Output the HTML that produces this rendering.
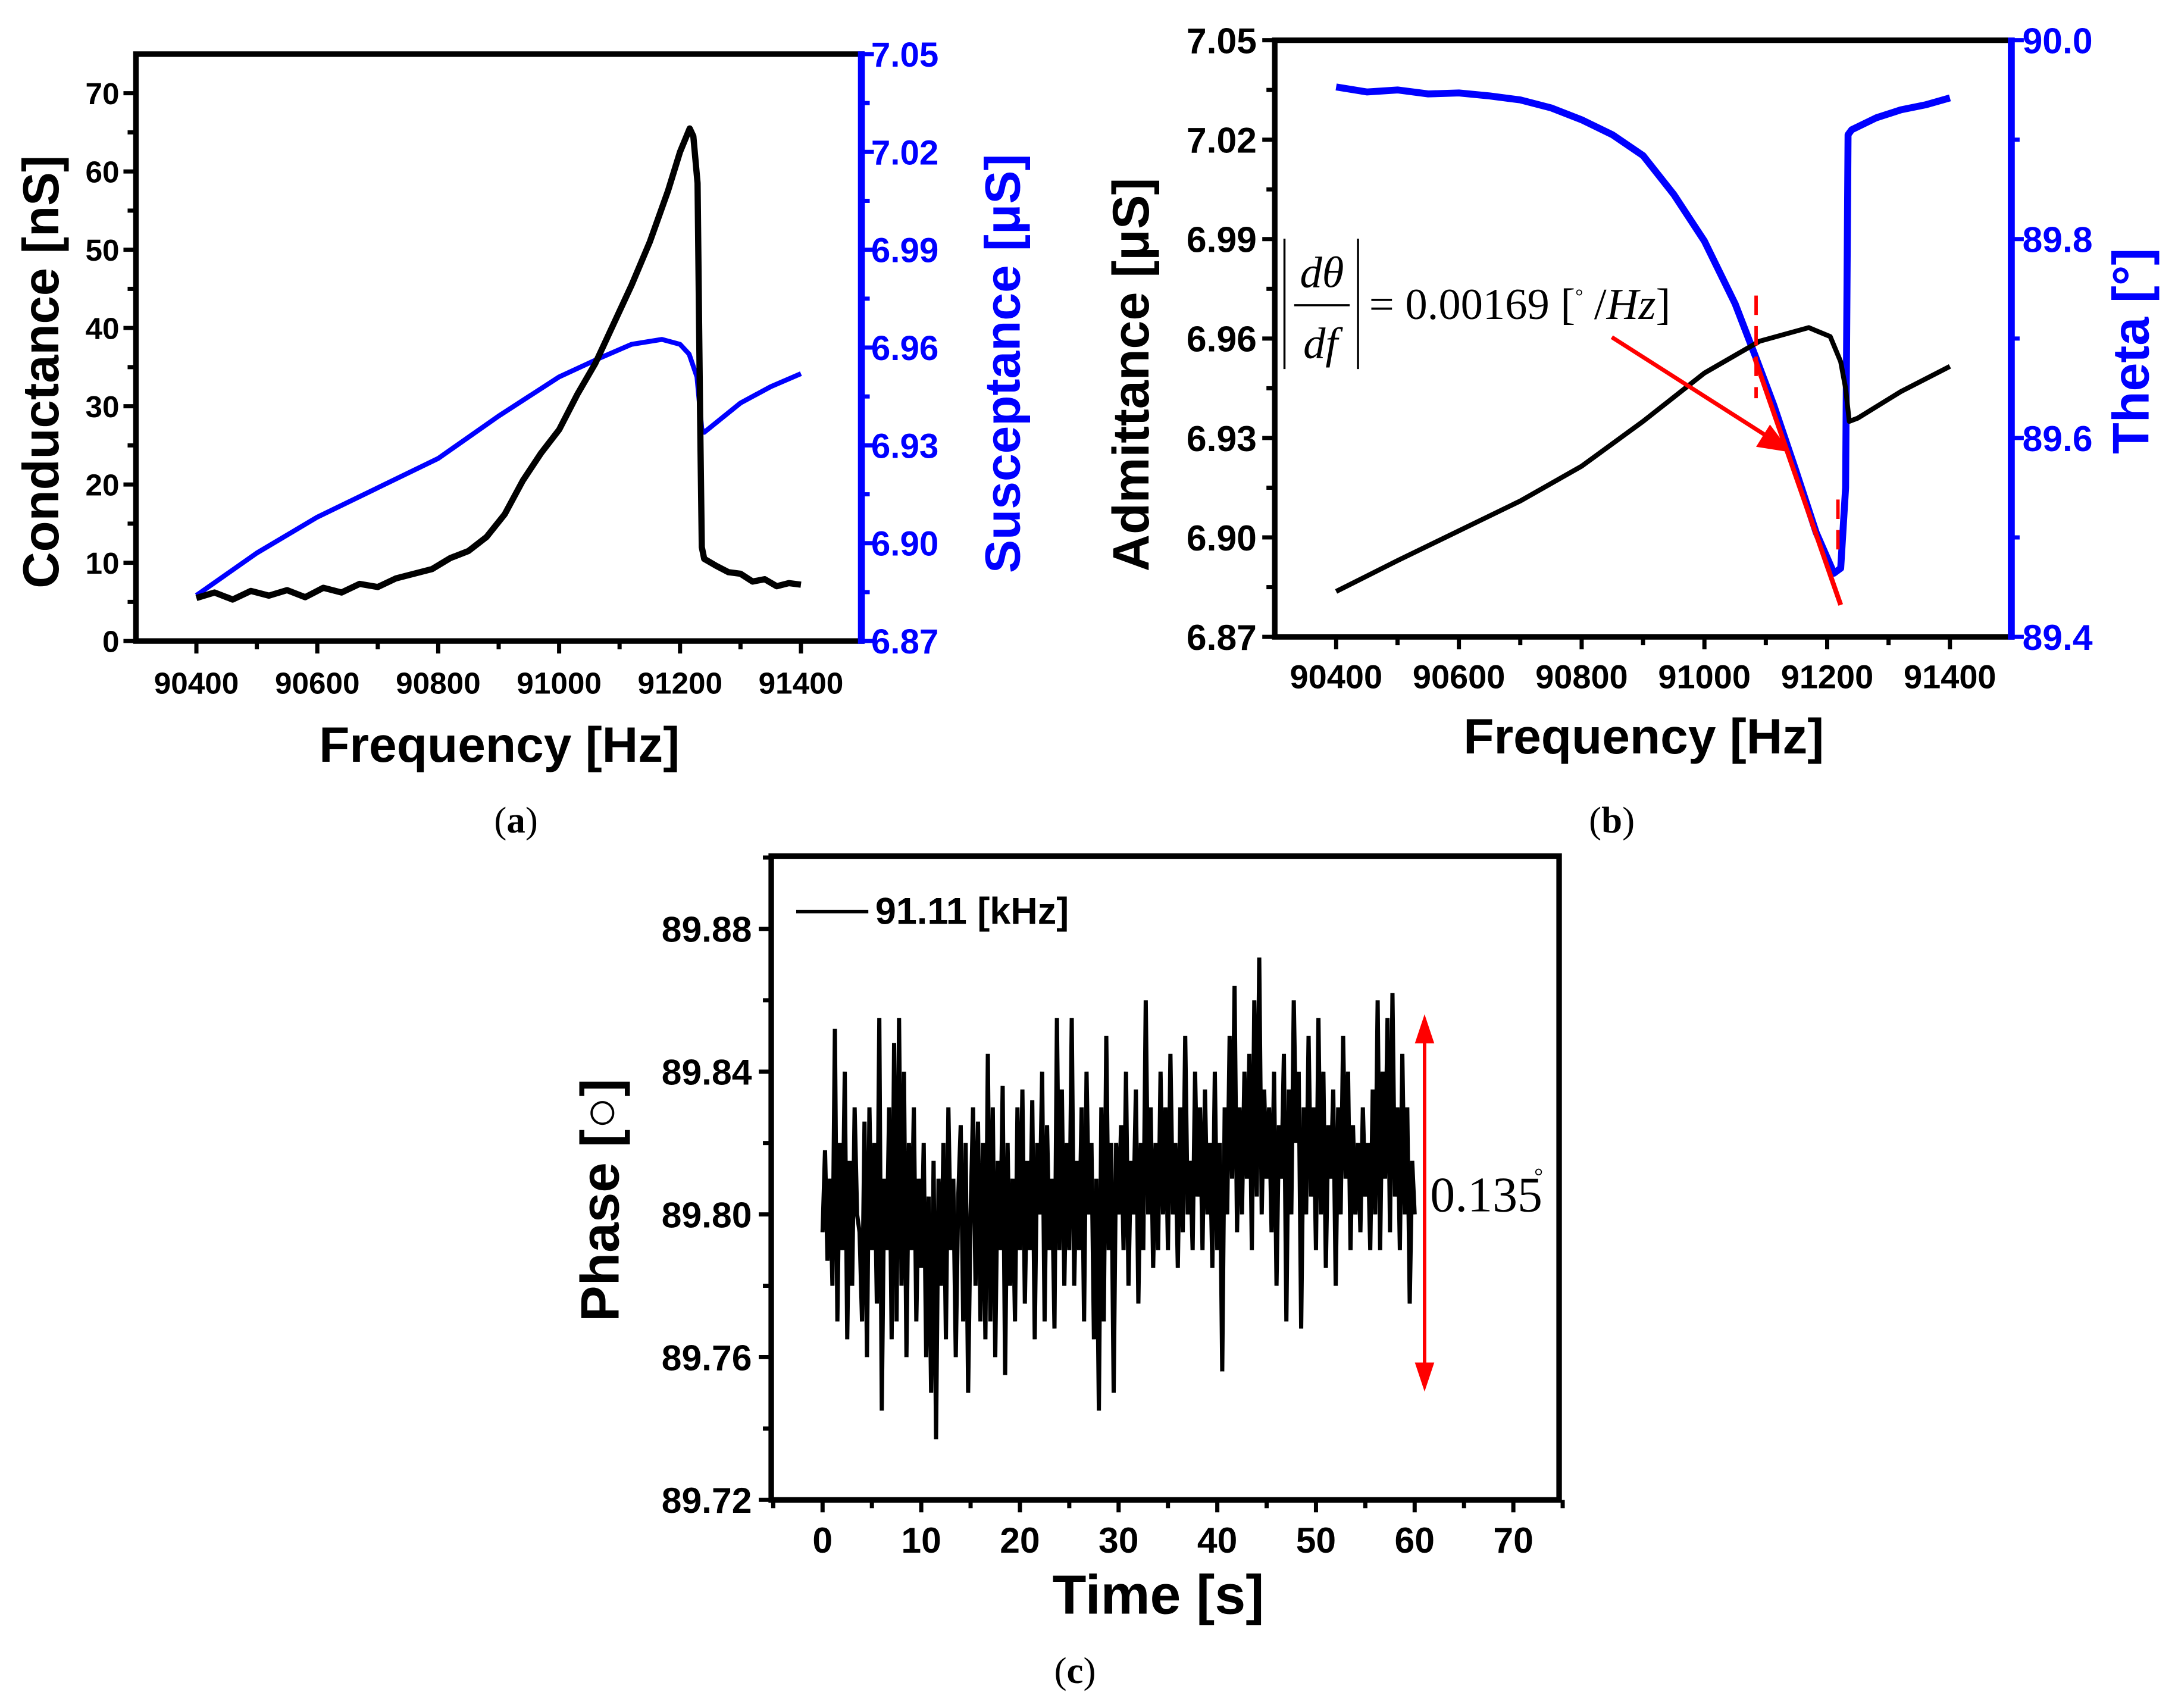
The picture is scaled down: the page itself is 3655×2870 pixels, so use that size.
<!DOCTYPE html>
<html><head><meta charset="utf-8"><style>
html,body{margin:0;padding:0;background:#fff;}
svg{display:block;}
text{font-family:"Liberation Sans",Arial,sans-serif;}
.tk{font-weight:bold;}
.ttl{font-weight:bold;}
text.ser, .ser text, .ser tspan{font-family:"Liberation Serif","Times New Roman",serif;}
</style></head><body>
<svg id="fig" width="3655" height="2870" viewBox="0 0 1568 1231" preserveAspectRatio="none" xmlns="http://www.w3.org/2000/svg">
<g id="pa"></g>
<g id="pb"></g>
<g id="pc"></g>
<text class="ser" x="372" y="600" font-size="27" text-anchor="middle">(<tspan font-weight="bold">a</tspan>)</text>
<text class="ser" x="1162" y="600" font-size="27" text-anchor="middle">(<tspan font-weight="bold">b</tspan>)</text>
<text class="ser" x="775" y="1213" font-size="27" text-anchor="middle">(<tspan font-weight="bold">c</tspan>)</text>
<g class="ser" font-size="32">
  <line x1="926" y1="172" x2="926" y2="266" stroke="#000" stroke-width="1.5"/>
  <line x1="979" y1="172" x2="979" y2="266" stroke="#000" stroke-width="1.5"/>
  <text x="953" y="207" text-anchor="middle" font-style="italic">dθ</text>
  <line x1="933" y1="220" x2="973" y2="220" stroke="#000" stroke-width="1.5"/>
  <text x="952" y="258" text-anchor="middle" font-style="italic">df</text>
  <text x="987" y="230">= 0.00169 [<tspan font-size="14" dy="-12">°</tspan><tspan dy="12"> /</tspan><tspan font-style="italic">Hz</tspan>]</text>
</g>
</svg>
<script>
// ---- Panel (a) data ----
const condF = [90400,90430,90460,90490,90520,90550,90580,90610,90640,90670,90700,90730,90760,90790,90820,90850,90880,90910,90940,90970,91000,91030,91060,91090,91120,91150,91180,91200,91216,91222,91229,91233,91236,91240,91260,91280,91300,91320,91340,91360,91380,91400];
const condV = [5.5,6.2,5.3,6.4,5.8,6.5,5.6,6.8,6.2,7.3,6.9,8.0,8.6,9.2,10.6,11.5,13.3,16.2,20.5,24.0,27.0,31.5,35.5,40.5,45.5,51.0,57.5,62.5,65.5,64.5,58.5,30,12,10.5,9.6,8.8,8.6,7.6,7.9,7.0,7.4,7.2];
const suscF = [90400,90500,90600,90700,90800,90900,91000,91070,91120,91170,91200,91215,91228,91236,91240,91300,91350,91400];
const suscV = [6.884,6.897,6.908,6.917,6.926,6.939,6.951,6.957,6.961,6.9625,6.961,6.958,6.951,6.935,6.934,6.943,6.948,6.952];
const freqTicks = [90400,90600,90800,91000,91200,91400];
const condTicks = [0,10,20,30,40,50,60,70];
const suscTicks = ["6.87","6.90","6.93","6.96","6.99","7.02","7.05"];
// ---- Panel (b) data ----
const admF = [90400,90500,90600,90700,90800,90900,91000,91090,91170,91205,91222,91230,91236,91250,91320,91400];
const admV = [6.8837,6.893,6.902,6.911,6.9215,6.935,6.9496,6.9592,6.9633,6.9606,6.953,6.945,6.935,6.936,6.944,6.9516];
const thF = [90400,90450,90500,90550,90600,90650,90700,90750,90800,90850,90900,90950,91000,91050,91085,91113,91148,91182,91211,91222,91230,91234,91240,91280,91320,91360,91400];
const thV = [89.953,89.948,89.950,89.946,89.947,89.944,89.940,89.932,89.920,89.905,89.884,89.845,89.798,89.735,89.679,89.633,89.569,89.505,89.464,89.469,89.55,89.905,89.91,89.922,89.93,89.935,89.942];
const admTicks = ["6.87","6.90","6.93","6.96","6.99","7.02","7.05"];
const thTicks = ["89.4","89.6","89.8","90.0"];
// ---- Panel (c) data ----
const phaseV = [89.795,89.818,89.787,89.81,89.78,89.852,89.77,89.82,89.79,89.84,89.765,89.815,89.78,89.83,89.8,89.795,89.77,89.826,89.76,89.83,89.79,
89.82,89.775,89.855,89.745,89.81,89.79,89.83,89.765,89.848,89.77,89.855,89.78,89.84,89.76,89.82,89.79,89.83,89.77,89.81,89.785,
89.82,89.76,89.805,89.75,89.815,89.737,89.81,89.78,89.82,89.765,89.83,89.79,89.81,89.76,89.805,89.825,89.77,89.82,89.75,89.8,
89.83,89.78,89.826,89.77,89.82,89.765,89.845,89.77,89.83,89.76,89.815,89.79,89.836,89.755,89.82,89.78,89.81,89.77,89.83,89.79,
89.835,89.775,89.815,89.79,89.832,89.765,89.82,89.8,89.84,89.77,89.825,89.79,89.81,89.768,89.855,89.79,89.835,89.78,89.82,89.79,
89.855,89.78,89.815,89.79,89.83,89.77,89.84,89.8,89.82,89.765,89.81,89.745,89.83,89.77,89.85,89.79,89.82,89.75,89.82,89.8,
89.825,89.79,89.84,89.78,89.815,89.8,89.835,89.775,89.82,89.79,89.86,89.8,89.83,89.785,89.82,89.79,89.84,89.8,89.83,89.79,
89.845,89.8,89.82,89.785,89.83,89.795,89.85,89.8,89.815,89.79,89.84,89.805,89.83,89.79,89.835,89.8,89.82,89.785,89.84,89.79,
89.82,89.756,89.83,89.8,89.85,89.81,89.864,89.795,89.83,89.8,89.84,89.81,89.845,89.79,89.86,89.805,89.872,89.8,89.835,89.81,
89.83,89.795,89.84,89.78,89.825,89.81,89.845,89.77,89.835,89.8,89.86,89.82,89.84,89.768,89.83,89.8,89.85,89.805,89.83,89.79,
89.855,89.8,89.84,89.785,89.825,89.81,89.835,89.78,89.83,89.8,89.85,89.81,89.84,89.79,89.825,89.8,89.82,89.795,89.83,89.805,
89.82,89.79,89.835,89.8,89.86,89.79,89.84,89.81,89.855,89.795,89.862,89.805,89.83,89.79,89.845,89.8,89.83,89.775,89.815,89.8];
const timeStep = [0.25];
const timeTicks = [0,10,20,30,40,50,60,70];
const phaseTicks = ["89.72","89.76","89.80","89.84","89.88"];

const NS = "http://www.w3.org/2000/svg";
function mk(parent, tag, attrs, txt){
  const e = document.createElementNS(NS, tag);
  for (const k in attrs) e.setAttribute(k, attrs[k]);
  if (txt !== undefined) e.textContent = txt;
  parent.appendChild(e);
  return e;
}
function lin(d0,d1,r0,r1){ return v => r0 + (v-d0)*(r1-r0)/(d1-d0); }
function pathD(xs, ys, sx, sy){ return xs.map((x,i)=>(i?'L':'M')+sx(x).toFixed(2)+','+sy(ys[i]).toFixed(2)).join(''); }

function frame(g, L, R, T, B, rightBlue){
  const f = mk(g,'rect',{x:L,y:T,width:R-L,height:B-T,fill:'none',stroke:'#000','stroke-width':4});
  
  
  if (rightBlue){
    const rb = mk(g,'line',{x1:R,y1:T-2,x2:R,y2:B+2,stroke:'#0000ff','stroke-width':5});
    
    
  }
}
function xAxis(g, sx, B, ticks, minorStep, lo, hi, labY, fs){
  for (let v=lo; v<=hi+1e-9; v+=minorStep){
    const major = ticks.some(t=>Math.abs(t-v)<1e-6);
    const t = mk(g,'line',{x1:sx(v),y1:B,x2:sx(v),y2:B+(major?9:6),stroke:'#000','stroke-width':3});
    
    
  }
  ticks.forEach(v=>{
    const l = mk(g,'text',{x:sx(v),y:labY,'text-anchor':'middle',class:'tk',style:'font-size:'+fs+'px'},String(v));
    
    
  });
}
function yAxis(g, sy, X, labels, minorVals, side, color, labX, fs){
  const dir = side==='left'?-1:1;
  minorVals.forEach(v=>{
    const t = mk(g,'line',{x1:X,y1:sy(v),x2:X+dir*6,y2:sy(v),stroke:color,'stroke-width':3});
    
    
  });
  labels.forEach(s=>{
    const v = parseFloat(s);
    const t = mk(g,'line',{x1:X,y1:sy(v),x2:X+dir*9,y2:sy(v),stroke:color,'stroke-width':3});
    
    
    const l = mk(g,'text',{x:labX,y:sy(v)+fs*0.36,'text-anchor':side==='left'?'end':'start',class:'tk',fill:color,style:'font-size:'+fs+'px'},s);
    
    
  });
}
function title(g, x, y, rot, txt, color, size){
  return mk(g,'text',{x:x,y:y,'text-anchor':'middle',class:'ttl',fill:color||'#000',style:'font-size:'+(size||36)+'px',transform:rot?`rotate(-90 ${x} ${y})`:''},txt);
}

// ===== Panel (a) =====
(function(){
  const g = document.getElementById('pa');
  const L=98,R=621,T=39,B=462;
  const sx = lin(90300,91500,L,R);
  const sy = lin(0,75,B,T);
  const sy2 = lin(6.87,7.05,B,T);
  const s = mk(g,'path',{d:pathD(suscF,suscV,sx,sy2),fill:'none',stroke:'#0000ff','stroke-width':3.5,'stroke-linejoin':'round'});
  
  
  const c = mk(g,'path',{d:pathD(condF,condV,sx,sy),fill:'none',stroke:'#000','stroke-width':4.5,'stroke-linejoin':'round'});
  
  
  frame(g,L,R,T,B,true);
  xAxis(g,sx,B,freqTicks,100,90400,91400,500,22);
  const minL=[]; for(let v=5;v<75;v+=10) minL.push(v);
  yAxis(g,sy,L,condTicks.map(String),minL,'left','#000',86,22);
  const minR=[]; for(let v=6.885;v<7.05;v+=0.03) minR.push(v);
  yAxis(g,sy2,R,suscTicks,minR,'right','#0000ff',628,25);
  const t1 = title(g,42,268,true,'Conductance [nS]',null,36.5);
  
  
  const t2 = title(g,735,262,true,'Susceptance [μS]','#0000ff',36);
  
  
  const t3 = title(g,360,549,false,'Frequency [Hz]',null,36);
  
  
})();

// ===== Panel (b) =====
(function(){
  const g = document.getElementById('pb');
  const L=919,R=1450,T=29,B=459;
  const sx = lin(90300,91500,L,R);
  const sy = lin(6.87,7.05,B,T);
  const sy2 = lin(89.4,90.0,B,T);
  const th = mk(g,'path',{d:pathD(thF,thV,sx,sy2),fill:'none',stroke:'#0000ff','stroke-width':5,'stroke-linejoin':'round'});
  
  
  const a = mk(g,'path',{d:pathD(admF,admV,sx,sy),fill:'none',stroke:'#000','stroke-width':3.5,'stroke-linejoin':'round'});
  
  
  const rl = mk(g,'line',{x1:1265,y1:258,x2:1327,y2:436,stroke:'#ff0000','stroke-width':3.5});
  
  
  const d1 = mk(g,'line',{x1:1266,y1:213,x2:1266,y2:287,stroke:'#ff0000','stroke-width':2.5,'stroke-dasharray':'14,8'});
  
  
  const d2 = mk(g,'line',{x1:1325,y1:360,x2:1325,y2:404,stroke:'#ff0000','stroke-width':2.5,'stroke-dasharray':'14,8'});
  
  
  const ar = mk(g,'line',{x1:1162,y1:243,x2:1278,y2:317,stroke:'#ff0000','stroke-width':3});
  
  
  const ah = mk(g,'polygon',{points:'1291,326 1266,322 1276,306',fill:'#ff0000'});
  
  
  frame(g,L,R,T,B,true);
  xAxis(g,sx,B,freqTicks,100,90400,91400,496,24);
  const minL=[]; for(let v=6.885;v<7.05;v+=0.03) minL.push(v);
  yAxis(g,sy,L,admTicks,minL,'left','#000',906,26);
  yAxis(g,sy2,R,thTicks,[89.5,89.7,89.9],'right','#0000ff',1458,26);
  const t1 = title(g,828,270,true,'Admittance [μS]',null,37);
  
  
  const t2 = title(g,1549,253,true,'Theta [°]','#0000ff',37);
  
  
  const t3 = title(g,1185,543,false,'Frequency [Hz]',null,36);
  
  
})();

// ===== Panel (c) =====
(function(){
  const g = document.getElementById('pc');
  const L=556,R=1124,T=617,B=1081;
  const sx = lin(0,70,593,1091);
  const sy = lin(89.72,89.88,1081,669.5);
  const ts = phaseV.map((v,i)=>i*timeStep[0]);
  const p = mk(g,'path',{d:pathD(ts,phaseV,sx,sy),fill:'none',stroke:'#000','stroke-width':3,'stroke-linejoin':'miter'});
  
  
  frame(g,L,R,T,B,false);
  xAxis(g,sx,B,timeTicks,5,-5,75,1119,26);
  yAxis(g,sy,L,phaseTicks,[89.74,89.78,89.82,89.86,89.90],'left','#000',542,26);
  const lg = mk(g,'line',{x1:574,y1:657,x2:626,y2:657,stroke:'#000','stroke-width':2.5});
  
  
  const lt = mk(g,'text',{x:631,y:666,class:'tk',style:'font-size:27px'},'91.11 [kHz]');
  
  
  const ra = mk(g,'line',{x1:1027,y1:745,x2:1027,y2:990,stroke:'#ff0000','stroke-width':2.5});
  
  
  const h1 = mk(g,'polygon',{points:'1027,731 1020,752 1034,752',fill:'#ff0000'});
  
  
  const h2 = mk(g,'polygon',{points:'1027,1003 1020,982 1034,982',fill:'#ff0000'});
  
  
  const rt = mk(g,'text',{x:1031,y:873,class:'ser','font-size':36},'0.135');
  
  
  const rd = mk(g,'text',{x:1106,y:853,class:'ser','font-size':16},'°');
  
  
  const t1 = title(g,446,865,true,'Phase [○]',null,39);
  
  
  const t3 = title(g,835,1163,false,'Time [s]',null,40);
  
  
})();
</script>
</body></html>
